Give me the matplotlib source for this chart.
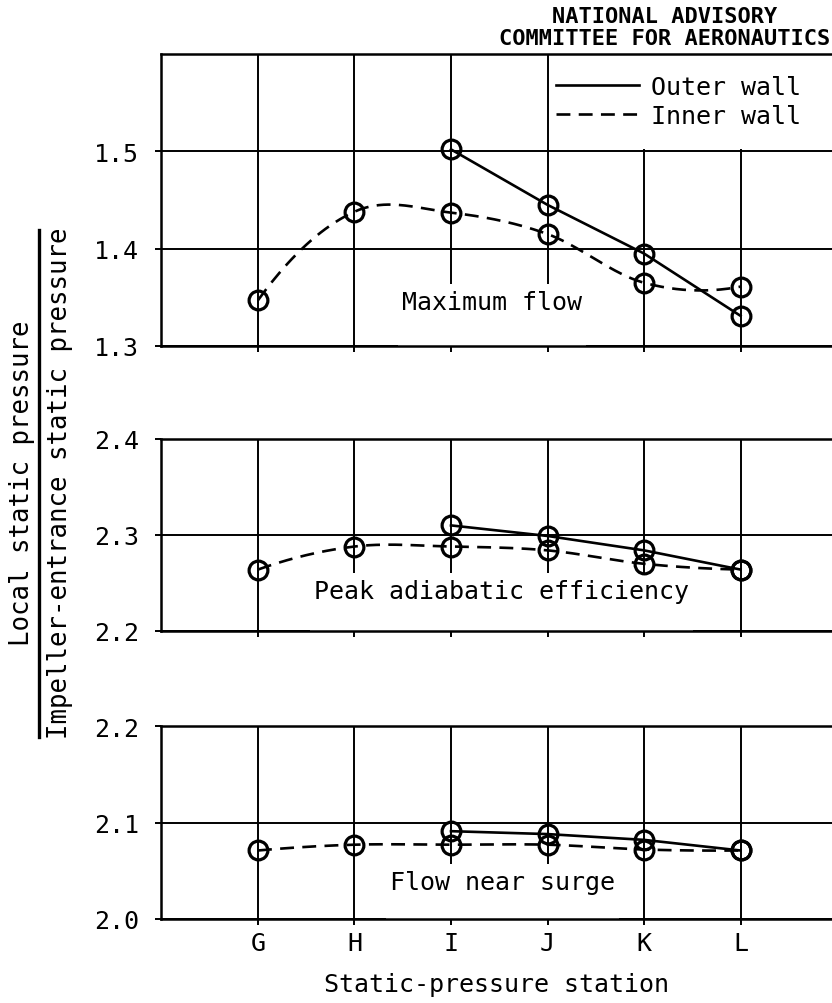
import numpy as np
import matplotlib
matplotlib.use("Agg")
import matplotlib.pyplot as plt
from matplotlib.lines import Line2D
from matplotlib.patches import Rectangle

# ---- data -------------------------------------------------------------
stations = ["G", "H", "I", "J", "K", "L"]
outer_stations = ["I", "J", "K", "L"]

max_flow_outer = [1.502, 1.445, 1.395, 1.331]
max_flow_inner = [1.347, 1.438, 1.437, 1.415, 1.365, 1.361]

peak_eff_outer = [2.310, 2.299, 2.284, 2.264]
peak_eff_inner = [2.264, 2.288, 2.288, 2.284, 2.270, 2.264]

surge_outer = [2.091, 2.088, 2.082, 2.071]
surge_inner = [2.071, 2.077, 2.077, 2.077, 2.072, 2.071]

panel_titles = ["Maximum flow", "Peak adiabatic efficiency", "Flow near surge"]
panel_ylims = [(1.3, 1.6), (2.2, 2.4), (2.0, 2.2)]
panel_yticks = [[1.3, 1.4, 1.5], [2.2, 2.3, 2.4], [2.0, 2.1, 2.2]]
panel_label_pos = [(2.43, 1.3455), (2.52, 2.242), (2.53, 2.038)]

legend_labels = ["Outer wall", "Inner wall"]
ylabel_num = "Local static pressure"
ylabel_den = "Impeller-entrance static pressure"
xlabel = "Static-pressure station"
agency = ["NATIONAL ADVISORY", "COMMITTEE FOR AERONAUTICS"]

# ---- style ------------------------------------------------------------
FONT = "DejaVu Sans Mono"
FS = 18
LW_GRID = 1.4
LW_DATA = 1.9
DASH = (10, 6)
plt.rcParams["lines.scale_dashes"] = False
plt.rcParams["font.family"] = [FONT]


def smooth_curve(x, y, n=40):
    """Cubic Hermite curve through the points.

    Interior tangents are central differences; end tangents follow the
    parabola through the last two points and the neighbouring tangent.
    """
    x = np.asarray(x, float)
    y = np.asarray(y, float)
    m = np.gradient(y, x)
    m[0] = 2 * (y[1] - y[0]) / (x[1] - x[0]) - m[1]
    m[-1] = 2 * (y[-1] - y[-2]) / (x[-1] - x[-2]) - m[-2]
    xs, ys = [], []
    for i in range(len(x) - 1):
        h = x[i + 1] - x[i]
        t = np.linspace(0, 1, n, endpoint=(i == len(x) - 2))
        h00 = 2 * t**3 - 3 * t**2 + 1
        h10 = t**3 - 2 * t**2 + t
        h01 = -2 * t**3 + 3 * t**2
        h11 = t**3 - t**2
        xs.append(x[i] + t * h)
        ys.append(h00 * y[i] + h10 * h * m[i] + h01 * y[i + 1] + h11 * h * m[i + 1])
    return np.concatenate(xs), np.concatenate(ys)


fig = plt.figure(figsize=(8.32, 10.04), dpi=100)

W, H = 832.0, 1004.0
left_px = 161
panel_px = [(55, 347), (440, 632), (727, 920)]
xlim = (-1.005, 5.948)

xpos = {s: i for i, s in enumerate(stations)}
x_all = np.array([xpos[s] for s in stations], float)
x_out = np.array([xpos[s] for s in outer_stations], float)

outer_series = [max_flow_outer, peak_eff_outer, surge_outer]
inner_series = [max_flow_inner, peak_eff_inner, surge_inner]

marker_style = dict(marker="o", markersize=13.5, markerfacecolor="none",
                    markeredgecolor="black", markeredgewidth=2.3)

axes = []
texts = []
for k, (top, bot) in enumerate(panel_px):
    ax = fig.add_axes([left_px / W, 1 - bot / H, 1 - left_px / W, (bot - top) / H])
    axes.append(ax)
    ax.set_xlim(*xlim)
    ax.set_ylim(*panel_ylims[k])
    ax.set_xticks(x_all)
    ax.set_yticks(panel_yticks[k])
    ax.set_yticklabels([f"{v:.1f}" for v in panel_yticks[k]], fontsize=FS)
    if k == 2:
        ax.set_xticklabels(stations, fontsize=FS)
    else:
        ax.set_xticklabels([])
    ax.tick_params(axis="both", direction="out", length=4, width=LW_GRID,
                   color="black")
    ax.tick_params(axis="y", pad=12)
    ax.tick_params(axis="x", pad=5)
    ax.grid(True, color="black", linewidth=LW_GRID)
    for side in ["left", "top", "bottom"]:
        ax.spines[side].set_linewidth(1.8)
    ax.spines["right"].set_visible(False)

    # inner wall: smooth dashed curve through the points
    cx, cy = smooth_curve(x_all, inner_series[k])
    ax.plot(cx, cy, color="black", linewidth=LW_DATA, dashes=DASH, zorder=3)
    ax.plot(x_all, inner_series[k], linestyle="none", zorder=4, **marker_style)

    # outer wall: straight solid segments
    ax.plot(x_out, outer_series[k], color="black", linewidth=LW_DATA,
            zorder=4, **marker_style)

    tx, ty = panel_label_pos[k]
    t = ax.text(tx, ty, panel_titles[k], ha="center", va="center",
                fontsize=FS, zorder=5)
    texts.append(t)

# legend in the top panel, on a clear patch above the 1.5 line
ax0 = axes[0]
ax0.add_patch(Rectangle((3.06, 1.5025), 3.2, 0.2, facecolor="white",
                        edgecolor="none", zorder=1.8))
handles = [Line2D([], [], color="black", linewidth=LW_DATA),
           Line2D([], [], color="black", linewidth=LW_DATA, dashes=DASH)]
ax0.legend(handles, legend_labels, loc="upper left",
           bbox_to_anchor=((556 - left_px) / (W - left_px), 0.928),
           frameon=False, fontsize=FS, handlelength=3.3, handletextpad=0.5,
           labelspacing=0.18, borderpad=0, borderaxespad=0)

# clear the grid behind each panel caption down to the bottom axis
fig.canvas.draw()
renderer = fig.canvas.get_renderer()
for ax, t in zip(axes, texts):
    bb = t.get_window_extent(renderer)
    inv = ax.transData.inverted()
    (x0, y0), (x1, y1) = inv.transform([[bb.x0 - 4, bb.y0], [bb.x1 + 4, bb.y1 + 6]])
    ylo = ax.get_ylim()[0]
    ax.add_patch(Rectangle((x0, ylo), x1 - x0, y1 - ylo, facecolor="white",
                           edgecolor="none", zorder=1.8))

# axis titles
axes[2].set_xlabel(xlabel, fontsize=FS, labelpad=12)
fig.text(665 / W, 1 - 17 / H, agency[0], ha="center", va="center",
         fontsize=15.8, fontweight="bold")
fig.text(665 / W, 1 - 39 / H, agency[1], ha="center", va="center",
         fontsize=15.8, fontweight="bold")

yc = 1 - 483 / H
fig.text(22 / W, yc, ylabel_num, rotation=90, ha="center", va="center",
         fontsize=18.5)
fig.text(60 / W, yc, ylabel_den, rotation=90, ha="center", va="center",
         fontsize=18.5)
fig.add_artist(Line2D([39 / W, 39 / W], [1 - 231 / H, 1 - 738 / H],
                      color="black", linewidth=2.4, transform=fig.transFigure))

fig.savefig("out.png", dpi=100, facecolor="white")
